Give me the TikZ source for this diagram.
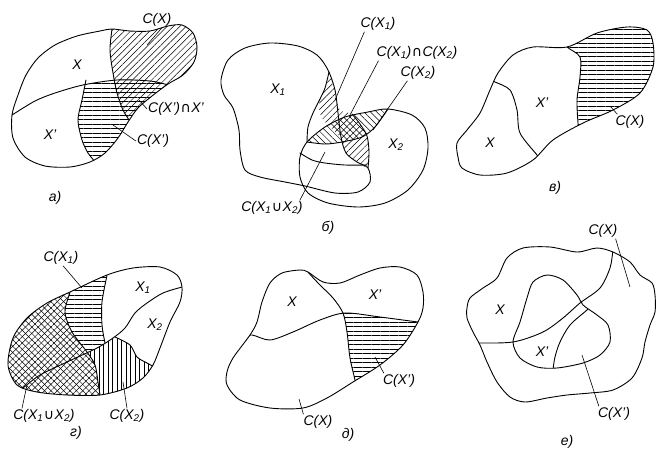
\documentclass[tikz,border=0pt]{standalone}
\usepackage{fontspec}
\setmainfont{Liberation Sans}
\newfontfamily\symf{DejaVu Sans}
\usetikzlibrary{patterns.meta}
\newcommand{\cp}{{\symf\upshape\kern0.5pt ∩\kern0.5pt}}
\newcommand{\cu}{{\symf\upshape\kern0.5pt ∪\kern0.5pt}}
\newcommand{\ls}[1]{\textsubscript{#1}}
\newcommand{\lblfont}{\fontsize{14}{16}\selectfont\itshape}
\tikzset{
  outl/.style={line width=0.9pt, line join=round, line cap=round},
  lead/.style={line width=0.6pt},
  lbl/.style={font=\lblfont, inner sep=1pt},
  hNE/.style={pattern={Lines[angle=45,distance=4.5pt,line width=0.5pt]}},
  hNW/.style={pattern={Lines[angle=-45,distance=4.5pt,line width=0.5pt]}},
  hH/.style={pattern={Lines[angle=0,distance=4.5pt,line width=0.5pt]}},
  hV/.style={pattern={Lines[angle=90,distance=4.5pt,line width=0.5pt]}},
}
% figure a
\def\aOut{plot[smooth cycle] coordinates {(12,115) (18,95) (26,75) (38,58) (55,45) (77,36) (100,31) (112,29) (130,31) (150,31) (168,26) (182,25) (193,33) (197,47) (194,62) (183,75) (168,84) (152,96) (138,108) (128,122) (118,138) (105,153) (90,162) (70,167) (45,166) (25,157) (13,138)}}
\def\aD{plot[smooth] coordinates {(9,117) (12,115) (35,101) (55,93) (83,85) (117,80) (150,81) (168,85) (176,89)}}
\def\aE{plot[smooth] coordinates {(113,22) (112,29) (110,50) (113,73) (117,93) (123,110) (131,123) (135,130)}}
\def\aF{plot[smooth] coordinates {(86,80) (85,85) (82,100) (78,120) (82,140) (88,153) (96,163) (100,170)}}
% figure b
\def\bXa{plot[smooth cycle] coordinates {(221,80) (228,60) (245,48) (270,43) (298,46) (317,55) (328,70) (335,90) (338,113) (341,137) (346,153) (357,162) (368,168) (370,182) (358,192) (335,193) (305,186) (285,182) (260,177) (245,170) (240,150) (239,130) (233,108) (224,95)}}
\def\bXb{plot[smooth cycle] coordinates {(307,142) (325,127) (345,117) (368,112) (388,109) (412,115) (425,128) (428,148) (423,170) (408,190) (385,203) (358,207) (328,203) (308,193) (300,177) (300,157)}}
% figure c
\def\cOut{plot[smooth cycle] coordinates {(458,157) (457,143) (467,130) (480,113) (490,90) (498,73) (513,55) (533,47) (567,47) (597,33) (627,27) (647,30) (653,43) (653,67) (640,93) (613,110) (583,123) (553,140) (533,160) (507,173) (480,175) (462,168)}}
\def\cDa{plot[smooth] coordinates {(490,80) (495,82) (510,90) (517,110) (520,133) (537,155) (542,162)}}
\def\cDb{plot[smooth] coordinates {(565,40) (567,47) (580,57) (580,77) (577,100) (578,123) (579,132)}}
% figure d
\def\dOut{plot[smooth cycle] coordinates {(8,365) (13,338) (27,318) (47,303) (70,292) (107,275) (133,268) (160,267) (177,275) (182,287) (180,302) (170,322) (160,348) (153,365) (143,378) (127,388) (100,395) (67,395) (37,392) (17,385)}}
\def\dDiv{plot[smooth] coordinates {(190,285) (182,287) (163,293) (147,303) (135,313) (125,328) (113,338) (97,348) (67,362) (40,375) (23,388) (15,394)}}
\def\dQ{plot[smooth] coordinates {(71,285) (70,292) (65,312) (72,332) (87,352) (95,365) (98,382) (100,395) (101,402)}}
\def\dP{plot[smooth] coordinates {(108,268) (107,275) (102,302) (102,325) (105,343) (108,352)}}
\def\dR{plot[smooth] coordinates {(108,333) (115,337) (130,345) (137,357) (147,363) (160,370)}}
% figure e
\def\eOut{plot[smooth cycle] coordinates {(227,385) (227,372) (233,358) (250,335) (257,322) (262,302) (270,283) (282,273) (300,270) (308,272) (323,282) (340,283) (360,275) (380,268) (400,267) (417,275) (423,292) (423,308) (418,322) (403,345) (380,365) (353,382) (327,398) (303,408) (270,408) (240,400)}}
\def\eV{plot[smooth] coordinates {(305,265) (308,272) (320,285) (333,298) (343,313) (347,332) (350,358) (355,380) (357,392)}}
\def\eH{plot[smooth] coordinates {(240,337) (252,335) (270,340) (293,332) (320,320) (345,313) (380,317) (418,322) (428,323)}}
% figure f
\def\fOut{plot[smooth cycle] coordinates {(467,308) (470,298) (483,288) (497,278) (507,258) (523,248) (550,247) (577,252) (597,248) (613,252) (630,262) (640,275) (652,283) (655,295) (655,312) (650,325) (645,342) (642,358) (632,378) (613,390) (590,393) (567,395) (547,398) (525,402) (510,397) (497,382) (487,362) (480,345) (473,332) (467,318)}}
\def\fIn{plot[smooth cycle] coordinates {(513,342) (520,322) (527,298) (533,282) (547,275) (563,280) (577,295) (583,305) (597,315) (608,325) (610,342) (600,355) (583,363) (557,368) (537,367) (520,358)}}
\begin{document}
\begin{tikzpicture}[x=1pt,y=-1pt]
\fill[white] (0,0) rectangle (657,448);
\useasboundingbox (0,0) rectangle (657,448);

% ---------------- a)
\begin{scope}
  \clip \aOut;
  \begin{scope}
    \clip \aE -- (260,130) -- (260,-20) -- (113,-20) -- cycle;
    \fill[hNE] (0,0) rectangle (260,200);
  \end{scope}
  \begin{scope}
    \clip \aD -- (260,89) -- (260,220) -- (-20,220) -- (-20,117) -- cycle;
    \clip \aF -- (100,220) -- (260,220) -- (260,-20) -- (86,-20) -- cycle;
    \fill[hH] (0,0) rectangle (260,200);
  \end{scope}
  \draw[outl] \aD;
  \draw[outl] \aE;
  \draw[outl] \aF;
\end{scope}
\draw[outl] \aOut;
\node[lbl] (aX) at (77,65) {X};
\node[lbl] (aXp) at (50,135) {X'};
\node[lbl] (aCX) at (157,20) {C(X)};
\coordinate (aCXt) at (147,45);
\draw[lead] ([xshift=5pt]aCX.south) -- (aCXt);
\node[lbl] (aCap) at (176,109) {C(X')\cp X'};
\coordinate (aCapt) at (139,100);
\draw[lead] (aCap.west) -- (aCapt);
\node[lbl] (aCXq) at (153,141) {C(X')};
\coordinate (aCXqt) at (113,125);
\draw[lead] (aCXq.west) -- (aCXqt);
\node[lbl] (acapt) at (55,198) {а)};

% ---------------- b)
\fill[hNW] plot[smooth] coordinates {(307,142) (325,127) (345,117) (368,112) (388,109)} -- plot[smooth] coordinates {(388,109) (375,127) (362,137) (342,142) (325,144) (307,142)} -- cycle;
\fill[hNE] plot[smooth cycle] coordinates {(330,78) (323,92) (319,106) (322,118) (331,128) (340,137) (346,153) (357,162) (368,168) (369,152) (367,136) (360,124) (352,114) (340,110) (336,96) (333,85)};
\draw[outl] \bXa;
\draw[outl] \bXb;
\draw[outl] plot[smooth] coordinates {(307,142) (325,144) (342,142) (362,137) (375,127) (388,109)};
\draw[outl] plot[smooth] coordinates {(307,142) (308,127) (313,113) (320,99) (325,88) (329,72)};
\draw[outl] plot[smooth] coordinates {(300,153) (312,160) (325,163) (345,165) (367,165)};
\draw[outl] plot[smooth] coordinates {(352,114) (360,124) (367,136) (369,152) (368,168)};
\node[lbl] (bX1) at (278,90) {X\ls1};
\node[lbl] (bX2) at (396,145) {X\ls2};
\node[lbl] (bC1) at (378,24) {C(X\ls1)};
\coordinate (bC1t) at (335,100);
\draw[lead] ([xshift=5pt]bC1.south west) -- (bC1t);
\node[lbl] (bCC) at (417,53) {C(X\ls1)\cp C(X\ls2)};
\coordinate (bCCt) at (350,115);
\draw[lead] ([xshift=3pt]bCC.south west) -- (bCCt);
\node[lbl] (bC2) at (418,73) {C(X\ls2)};
\coordinate (bC2t) at (373,130);
\draw[lead] ([xshift=8pt]bC2.south west) -- (bC2t);
\node[lbl] (bCU) at (272,208) {C(X\ls1\cu X\ls2)};
\coordinate (bCUt) at (325,152);
\draw[lead] ([xshift=-4pt]bCU.north east) -- (bCUt);
\node[lbl] (bcapt) at (328,228) {б)};

% ---------------- c)
\begin{scope}
  \clip \cOut;
  \begin{scope}
    \clip \cDb -- (700,132) -- (700,0) -- (565,0) -- cycle;
    \fill[hH] (440,0) rectangle (700,200);
  \end{scope}
  \draw[outl] \cDa;
  \draw[outl] \cDb;
\end{scope}
\draw[outl] \cOut;
\node[lbl] (cXp) at (542,103) {X'};
\node[lbl] (cX) at (490,143) {X};
\node[lbl] (cCX) at (630,122) {C(X)};
\coordinate (cCXt) at (610,106);
\draw[lead] ([xshift=3pt]cCX.north west) -- (cCXt);
\node[lbl] (ccapt) at (555,188) {в)};

% ---------------- d)
\begin{scope}
  \clip \dOut;
  \begin{scope}
    \clip \dQ -- (101,450) -- (-50,450) -- (-50,200) -- (71,200) -- cycle;
    \fill[hNE] (0,200) rectangle (200,420);
    \fill[hNW] (0,200) rectangle (200,420);
  \end{scope}
  \begin{scope}
    \clip \dQ -- (101,450) -- (300,450) -- (300,200) -- (71,200) -- cycle;
    \clip \dP -- (-50,352) -- (-50,200) -- (108,200) -- cycle;
    \clip \dDiv -- (-50,394) -- (-50,200) -- (190,200) -- cycle;
    \fill[hH] (0,200) rectangle (200,420);
  \end{scope}
  \begin{scope}
    \clip \dQ -- (101,450) -- (300,450) -- (300,200) -- (71,200) -- cycle;
    \clip \dDiv -- (-50,394) -- (-50,450) -- (300,450) -- (300,285) -- cycle;
    \clip \dR -- (160,450) -- (-50,450) -- (-50,200) -- (108,200) -- cycle;
    \fill[hV] (0,200) rectangle (200,420);
  \end{scope}
  \draw[outl] \dDiv;
  \draw[outl] \dQ;
  \draw[outl] plot[smooth] coordinates {(108,268) (107,275) (102,302) (102,325) (105,343)};
  \draw[outl] plot[smooth] coordinates {(115,337) (130,345) (137,357) (147,363) (160,370)};
\end{scope}
\draw[outl] \dOut;
\node[lbl] (dX1) at (143,288) {X\ls1};
\node[lbl] (dX2) at (155,325) {X\ls2};
\node[lbl] (dC1) at (61,258) {C(X\ls1)};
\coordinate (dC1t) at (82,288);
\draw[lead] ([xshift=2pt]dC1.south) -- (dC1t);
\node[lbl] (dCU) at (44,416) {C(X\ls1\cu X\ls2)};
\coordinate (dCUt) at (27,385);
\draw[lead] ([xshift=-22pt]dCU.north) -- (dCUt);
\node[lbl] (dC2) at (127,416) {C(X\ls2)};
\coordinate (dC2t) at (123,382);
\draw[lead] (dC2.north) -- (dC2t);
\node[lbl] (dcapt) at (76,433) {г)};

% ---------------- e)
\begin{scope}
  \clip \eOut;
  \begin{scope}
    \clip \eV -- (357,450) -- (500,450) -- (500,250) -- (305,250) -- cycle;
    \clip \eH -- (428,450) -- (200,450) -- (200,337) -- cycle;
    \fill[hH] (200,250) rectangle (450,420);
  \end{scope}
  \draw[outl] \eV;
  \draw[outl] \eH;
\end{scope}
\draw[outl] \eOut;
\node[lbl] (eX) at (292,302) {X};
\node[lbl] (eXp) at (375,295) {X'};
\node[lbl] (eCXp) at (399,381) {C(X')};
\coordinate (eCXpt) at (375,357);
\draw[lead] ([xshift=2pt]eCXp.north west) -- (eCXpt);
\node[lbl] (eCX) at (318,422) {C(X)};
\coordinate (eCXt) at (299,399);
\draw[lead] ([xshift=1pt]eCX.north west) -- (eCXt);
\node[lbl] (ecapt) at (348,435) {д)};

% ---------------- f)
\begin{scope}
  \clip \fOut;
  \draw[outl] plot[smooth] coordinates {(468,343) (474,343) (513,342) (543,332) (563,318) (580,303) (600,288) (610,268) (613,250) (614,244)};
\end{scope}
\begin{scope}
  \clip \fIn;
  \draw[outl] plot[smooth] coordinates {(592,305) (587,310) (570,325) (560,342) (555,357) (553,370) (553,376)};
\end{scope}
\draw[outl] \fOut;
\draw[outl] \fIn;
\node[lbl] (fX) at (500,310) {X};
\node[lbl] (fXp) at (542,352) {X'};
\node[lbl] (fCX) at (603,231) {C(X)};
\coordinate (fCXt) at (630,287);
\draw[lead] ([xshift=-3pt]fCX.south east) -- (fCXt);
\node[lbl] (fCXp) at (614,414) {C(X')};
\coordinate (fCXpt) at (582,355);
\draw[lead] ([xshift=2pt]fCXp.north west) -- (fCXpt);
\node[lbl] (fcapt) at (567,442) {е)};
\end{tikzpicture}
\end{document}
